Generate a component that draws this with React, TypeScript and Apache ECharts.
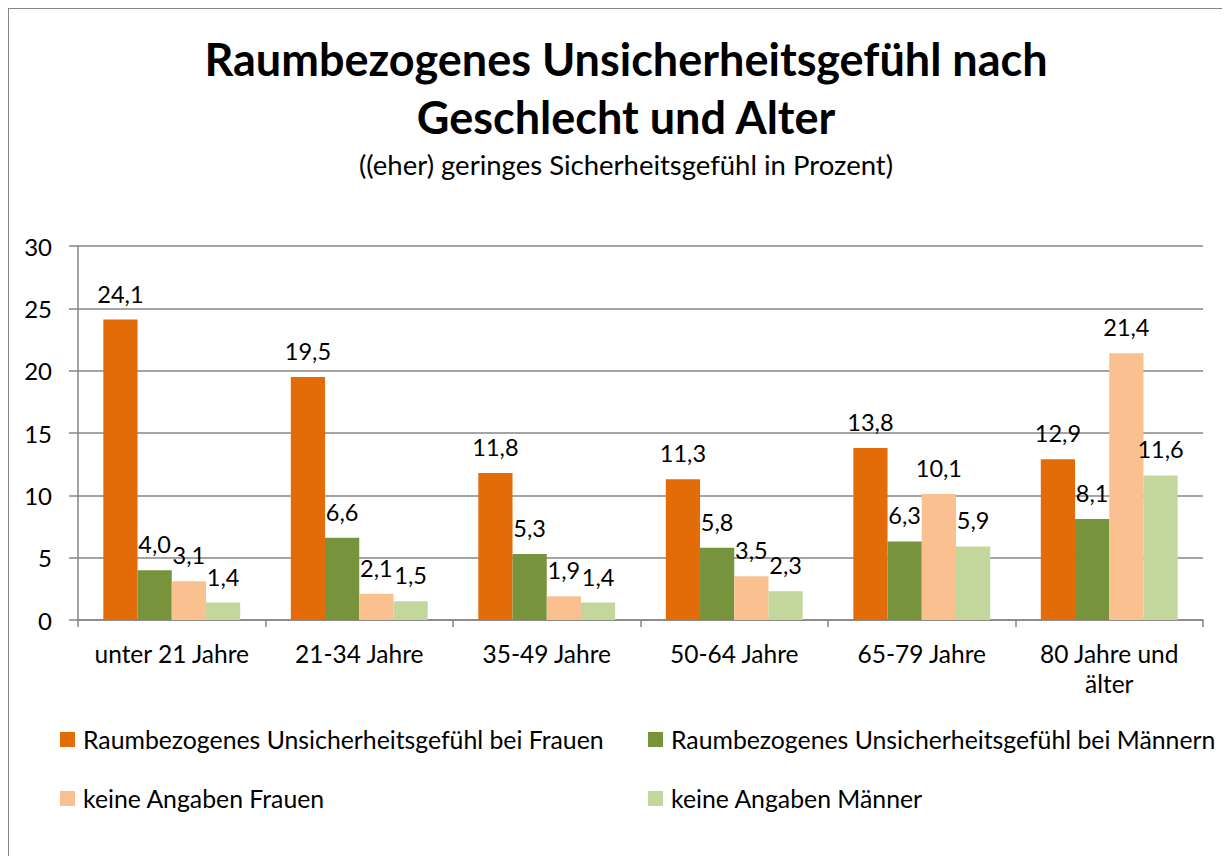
import React, { useEffect, useRef } from "react";
import * as echarts from "echarts";

const categories = ["unter 21 Jahre", "21-34 Jahre", "35-49 Jahre", "50-64 Jahre", "65-79 Jahre", "80 Jahre und\nälter"];
const seriesNames = [
  "Raumbezogenes Unsicherheitsgefühl bei Frauen",
  "Raumbezogenes Unsicherheitsgefühl bei Männern",
  "keine Angaben Frauen",
  "keine Angaben Männer",
];
const frauen = [24.1, 19.5, 11.8, 11.3, 13.8, 12.9];
const maenner = [4.0, 6.6, 5.3, 5.8, 6.3, 8.1];
const keineFrauen = [3.1, 2.1, 1.9, 3.5, 10.1, 21.4];
const keineMaenner = [1.4, 1.5, 1.4, 2.3, 5.9, 11.6];
const colors = ["#E36C09", "#77933C", "#FAC090", "#C3D69B"];
const yTicks = { min: 0, max: 30, interval: 5 };

const FONT = "Lato, 'Open Sans', sans-serif";
const AXIS = "#868686";

export default function App() {
  const ref = useRef<HTMLDivElement>(null);
  useEffect(() => {
    if (!ref.current) return;
    const chart = echarts.init(ref.current, undefined, { renderer: "svg" });
    const allData = [frauen, maenner, keineFrauen, keineMaenner];
    const legendPos = [
      { left: 51, top: 718 },
      { left: 639, top: 718 },
      { left: 51, top: 777 },
      { left: 639, top: 777 },
    ];
    chart.setOption({
      animation: false,
      backgroundColor: "#ffffff",
      textStyle: { fontFamily: FONT },
      title: [
        {
          text: "Raumbezogenes Unsicherheitsgefühl nach\nGeschlecht und Alter",
          left: 612,
          top: 16,
          textAlign: "center",
          textStyle: { fontFamily: FONT, fontSize: 45, fontWeight: "bold", color: "#000", lineHeight: 58 },
        },
        {
          text: "((eher) geringes Sicherheitsgefühl in Prozent)",
          left: 612,
          top: 136,
          textAlign: "center",
          textStyle: { fontFamily: FONT, fontSize: 27.5, fontWeight: "normal", color: "#000" },
        },
      ],
      legend: legendPos.map((p, i) => ({
        data: [seriesNames[i]],
        left: p.left,
        top: p.top,
        icon: "rect",
        itemWidth: 15,
        itemHeight: 15,
        padding: 0,
        textStyle: { fontFamily: FONT, fontSize: 24.8, color: "#000", padding: [0, 0, 0, 3] },
      })),
      grid: { left: 69, top: 237, width: 1125, height: 374, containLabel: false },
      xAxis: {
        type: "category",
        data: categories,
        axisLine: { show: true, lineStyle: { color: AXIS, width: 1.5 } },
        axisTick: { show: true, interval: 0, length: 7, lineStyle: { color: AXIS, width: 1.5 } },
        axisLabel: { interval: 0, fontFamily: FONT, fontSize: 24.5, color: "#000", margin: 18, lineHeight: 30 },
      },
      yAxis: {
        type: "value",
        min: yTicks.min,
        max: yTicks.max,
        interval: yTicks.interval,
        axisLine: { show: true, lineStyle: { color: AXIS, width: 1.5 } },
        axisTick: { show: true, length: 9, lineStyle: { color: AXIS, width: 1.5 } },
        splitLine: { show: true, lineStyle: { color: AXIS, width: 1.5 } },
        axisLabel: { fontFamily: FONT, fontSize: 24, color: "#000", margin: 26 },
      },
      series: allData.map((d, i) => ({
        name: seriesNames[i],
        type: "bar",
        data: d,
        barGap: "0%",
        barCategoryGap: "27%",
        itemStyle: { color: colors[i] },
        label: {
          show: true,
          position: "top",
          distance: 14,
          fontFamily: FONT,
          fontSize: 23.5,
          color: "#000",
          formatter: (p: any) => Number(p.value).toFixed(1).replace(".", ","),
        },
      })),
    });
    return () => chart.dispose();
  }, []);
  return (
    <div
      style={{
        width: 1221,
        height: 847,
        borderTop: "1px solid #868686",
        borderLeft: "1px solid #868686",
        background: "#fff",
      }}
    >
      <div ref={ref} style={{ width: 1221, height: 847 }} />
    </div>
  );
}
